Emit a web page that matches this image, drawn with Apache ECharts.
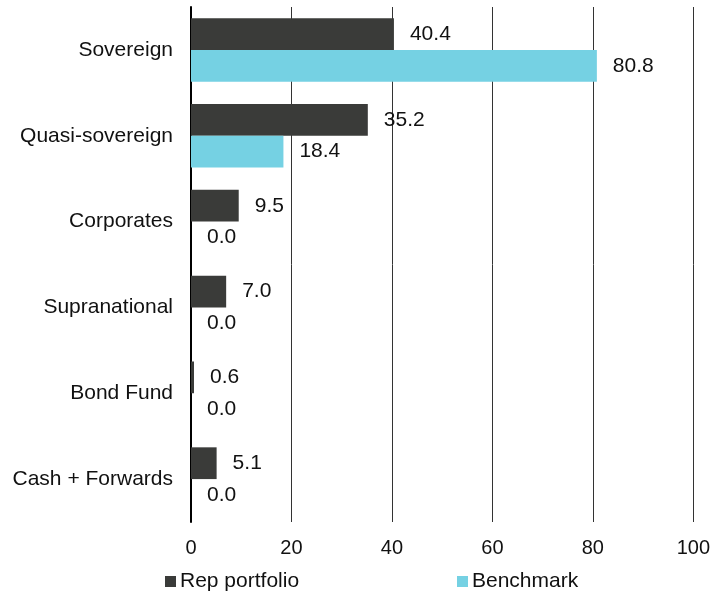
<!DOCTYPE html>
<html>
<head>
<meta charset="utf-8">
<script src="https://cdn.jsdelivr.net/npm/echarts@6/dist/echarts.min.js"></script>
<style>
html,body{margin:0;padding:0;background:#fff;}
#chart{width:713px;height:595px;}
</style>
</head>
<body>
<div id="chart"></div>
<script>
var categories = ['Sovereign', 'Quasi-sovereign', 'Corporates', 'Supranational', 'Bond Fund', 'Cash + Forwards'];
var repPortfolio = [40.4, 35.2, 9.5, 7.0, 0.6, 5.1];
var benchmark = [80.8, 18.4, 0.0, 0.0, 0.0, 0.0];
var seriesNames = ['Rep portfolio', 'Benchmark'];
var xTicks = { min: 0, max: 100, interval: 20 };

var FONT = '"Liberation Sans", Arial, sans-serif';
var chart = echarts.init(document.getElementById('chart'), null, { renderer: 'canvas' });

var labelCfg = {
  show: true,
  position: 'right',
  distance: 16,
  fontFamily: FONT,
  fontSize: 21,
  color: '#111',
  formatter: function (p) { return Number(p.value).toFixed(1); }
};

chart.setOption({
  animation: false,
  backgroundColor: '#fff',
  textStyle: { fontFamily: FONT },
  grid: { left: 191, right: 17, top: 7, bottom: 73, containLabel: false },
  legend: [
    {
      data: [seriesNames[0]],
      left: 165, top: 571, padding: 0,
      itemWidth: 11, itemHeight: 11, itemGap: 4,
      icon: 'rect',
      textStyle: { fontFamily: FONT, fontSize: 21, color: '#111', padding: [0, 0, 0, -1] }
    },
    {
      data: [seriesNames[1]],
      left: 457, top: 571, padding: 0,
      itemWidth: 11, itemHeight: 11, itemGap: 4,
      icon: 'rect',
      textStyle: { fontFamily: FONT, fontSize: 21, color: '#111', padding: [0, 0, 0, -1] }
    }
  ],
  xAxis: {
    type: 'value',
    min: xTicks.min, max: xTicks.max, interval: xTicks.interval,
    axisLine: { show: false },
    axisTick: { show: false },
    axisLabel: { fontFamily: FONT, fontSize: 20, color: '#111', margin: 16 },
    splitLine: { show: true, lineStyle: { color: '#333', width: 1 } }
  },
  yAxis: {
    type: 'category',
    data: categories,
    inverse: true,
    axisLine: { show: true, lineStyle: { color: '#000', width: 2 } },
    axisTick: { show: false },
    axisLabel: { fontFamily: FONT, fontSize: 21, color: '#111', margin: 18 },
    splitLine: { show: false }
  },
  series: [
    {
      name: seriesNames[0],
      type: 'bar',
      data: repPortfolio,
      barGap: '0%',
      barCategoryGap: '26%',
      itemStyle: { color: '#3a3b39' },
      label: labelCfg
    },
    {
      name: seriesNames[1],
      type: 'bar',
      data: benchmark,
      barGap: '0%',
      barCategoryGap: '26%',
      itemStyle: { color: '#75d1e3' },
      label: labelCfg
    }
  ]
});
</script>
</body>
</html>
